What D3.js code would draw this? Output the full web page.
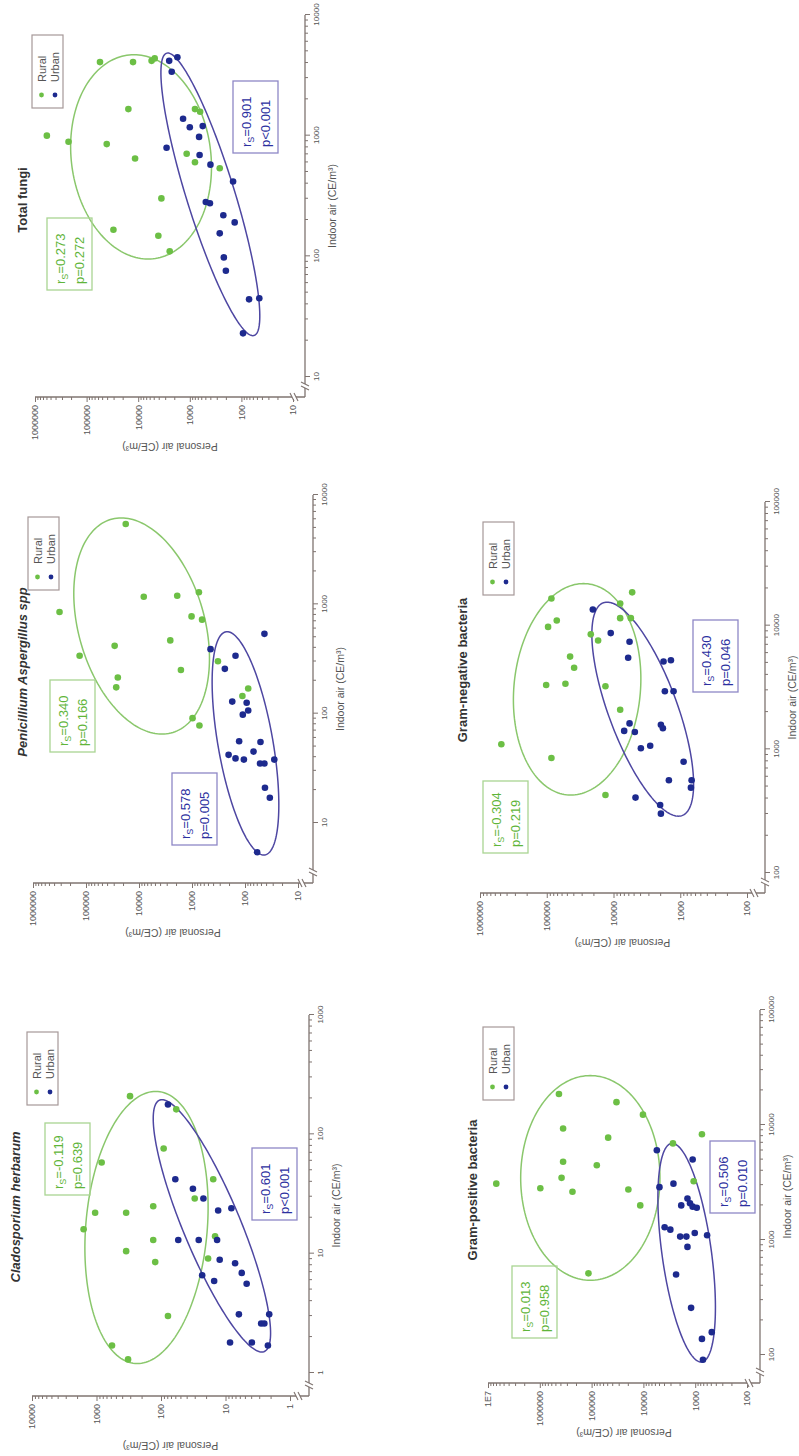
<!DOCTYPE html>
<html>
<head>
<meta charset="utf-8">
<script src="https://cdn.jsdelivr.net/npm/d3@7"></script>
<style>
  html, body { margin: 0; padding: 0; background: #fff; }
  svg { display: block; }
  text { font-family: "Liberation Sans", Arial, Helvetica, sans-serif; }
</style>
</head>
<body>
<svg id="fig" width="799" height="1456"></svg>
<script>
// ---------- data: [indoor air, personal air] in CE/m³ ----------
const cladoRural = [[209,302],[162,58],[76,91],[58,832],[42,15.5],[29,30],[25,132],[22,1050],[22,347],[16,1585],[13,132],[14,14.5],[10.5,347],[8.5,123],[9.1,18.6],[3.0,78],[1.7,575],[1.3,324]];
const cladoUrban = [[178,78],[42,60],[35,32],[29,22],[23,13],[24,8.1],[13,54],[13,26],[13,13.5],[8.9,12.3],[8.3,7.1],[6.6,23],[6.9,5.6],[5.9,15],[5.6,4.7],[3.1,6.2],[3.1,2.1],[2.6,2.8],[2.6,2.5],[1.8,8.5],[1.8,3.9],[1.7,2.2]];

const penicRural = [[5430,17800],[851,316000],[1175,8130],[1200,1900],[1290,741],[776,1020],[724,646],[468,2570],[417,28800],[339,132000],[251,1620],[214,25100],[174,26900],[91,977],[78,724],[302,324],[145,112],[170,87]];
const penicUrban = [[537,43],[389,447],[339,151],[257,240],[129,174],[126,93],[107,87],[98,110],[56,129],[55,51],[42,204],[39,151],[38,105],[45,69],[35,52],[35,43],[38,28],[21,42],[17,34],[5.4,59]];

const totalRural = [[1000,589000],[891,224000],[4070,55000],[4070,12600],[4170,5500],[4370,4790],[1660,15500],[851,40700],[646,11500],[302,3550],[166,30200],[148,4070],[110,2450],[708,1150],[603,794],[1660,794],[1580,631],[537,263]];
const totalUrban = [[4170,2510],[4470,1740],[3390,2240],[1380,1350],[1175,1000],[1200,562],[977,661],[692,646],[794,2820],[575,398],[417,145],[282,490],[275,407],[219,224],[191,135],[155,263],[98,219],[76,200],[44,71],[45,45],[23,93]];

const gposRural = [[18600,427000],[15800,33100],[12300,10200],[9330,355000],[7760,47900],[8320,741],[6920,2690],[4790,355000],[4470,79400],[3470,380000],[3090,6920000],[2820,977000],[2630,234000],[2750,19500],[3240,1070],[2000,11500],[513,115000]];
const gposUrban = [[6030,5500],[5010,1120],[3090,2630],[2880,4900],[2290,1410],[2090,1260],[2000,1860],[1950,1120],[1910,933],[1290,3890],[1230,3020],[1070,1950],[1070,1480],[1150,1020],[1100,589],[871,1410],[501,2340],[257,1200],[158,479],[138,741],[91,708]];

const gnegRural = [[18600,5250],[16600,85100],[15100,7940],[11000,70800],[9770,95500],[11500,7940],[11500,5500],[8510,21900],[7590,17000],[5620,44700],[4570,38900],[3310,102000],[3390,52500],[3240,13200],[2090,7940],[1100,479000],[851,85100],[427,13200]];
const gnegUrban = [[13500,20400],[8710,11000],[7410,5750],[5500,6030],[5130,1780],[5250,1380],[2950,1700],[2950,1260],[1620,5750],[1410,6920],[1380,4790],[1580,1950],[1480,1820],[1020,3890],[1070,2820],[794,891],[562,1480],[562,676],[490,692],[407,4680],[355,2000],[302,1950]];

// ---------- group ellipses: x/y extent (CE/m³) and log-space correlation ----------
const cladoEllipses = { rural: { x: [1.2, 229], y: [18.6, 1514], rho: -0.15 }, urban: { x: [1.5, 195], y: [2.0, 132], rho: 0.85 } };
const penicEllipses = { rural: { x: [65, 6170], y: [468, 170000], rho: 0.3 }, urban: { x: [5.1, 562], y: [23, 417], rho: 0.55 } };
const totalEllipses = { rural: { x: [95, 4680], y: [380, 204000], rho: 0.1 }, urban: { x: [22, 4840], y: [44, 3630], rho: 0.86 } };
const gposEllipses  = { rural: { x: [447, 26900], y: [4790, 2340000], rho: 0.0 }, urban: { x: [87, 6920], y: [407, 5250], rho: 0.5 } };
const gnegEllipses  = { rural: { x: [427, 21900], y: [3890, 316000], rho: -0.1 }, urban: { x: [288, 15500], y: [631, 21100], rho: 0.7 } };

// ---------- Spearman statistics ----------
const cladoStats = { rural: { r: "=-0.119", p: "=0.639" }, urban: { r: "=0.601", p: "<0.001" } };
const penicStats = { rural: { r: "=0.340", p: "=0.166" }, urban: { r: "=0.578", p: "=0.005" } };
const totalStats = { rural: { r: "=0.273", p: "=0.272" }, urban: { r: "=0.901", p: "<0.001" } };
const gposStats  = { rural: { r: "=0.013", p: "=0.958" }, urban: { r: "=0.506", p: "=0.010" } };
const gnegStats  = { rural: { r: "=-0.304", p: "=0.219" }, urban: { r: "=0.430", p: "=0.046" } };

// ---------- axis ticks ----------
const cladoXTicks = [1, 10, 100, 1000];
const cladoYTicks = [1, 10, 100, 1000, 10000];
const penicXTicks = [10, 100, 1000, 10000];
const penicYTicks = [10, 100, 1000, 10000, 100000, 1000000];
const totalXTicks = [10, 100, 1000, 10000];
const totalYTicks = [10, 100, 1000, 10000, 100000, 1000000];
const gposXTicks  = [100, 1000, 10000, 100000];
const gposYTicks  = [100, 1000, 10000, 100000, 1000000, 10000000];
const gposYLabels = ["100", "1000", "10000", "100000", "1000000", "1E7"];
const gnegXTicks  = [100, 1000, 10000, 100000];
const gnegYTicks  = [100, 1000, 10000, 100000, 1000000];

const groupNames = ["Rural", "Urban"];
const xTitle = "Indoor air (CE/m³)";
const yTitle = "Personal air (CE/m³)";

// ---------- panel definitions ----------
const panels = [
  { key: "clado", title: "Cladosporium herbarum", italic: true, xTicks: cladoXTicks, yTicks: cladoYTicks, rural: cladoRural, urban: cladoUrban, ell: cladoEllipses, stats: cladoStats },
  { key: "penic", title: "Penicillium Aspergillus spp", italic: true, xTicks: penicXTicks, yTicks: penicYTicks, rural: penicRural, urban: penicUrban, ell: penicEllipses, stats: penicStats },
  { key: "total", title: "Total fungi", italic: false, xTicks: totalXTicks, yTicks: totalYTicks, rural: totalRural, urban: totalUrban, ell: totalEllipses, stats: totalStats },
  { key: "gpos", title: "Gram-positive bacteria", italic: false, xTicks: gposXTicks, yTicks: gposYTicks, yLabels: gposYLabels, rural: gposRural, urban: gposUrban, ell: gposEllipses, stats: gposStats },
  { key: "gneg", title: "Gram-negative bacteria", italic: false, xTicks: gnegXTicks, yTicks: gnegYTicks, rural: gnegRural, urban: gnegUrban, ell: gnegEllipses, stats: gnegStats }
];

// Layout in the figure's own (landscape) frame: 1456 wide x 799 tall.
const layout = {
  clado: { x: [83, 441],   y: [290, 32],  corner: [60, 309],   title: [249, 20],  legend: [351, 27],  ruralBox: [261, 45],  urbanBox: [236, 252] },
  penic: { x: [633, 961],  y: [298, 33],  corner: [573, 313],  title: [784, 27],  legend: [866, 28],  ruralBox: [704, 50],  urbanBox: [611, 172] },
  total: { x: [1079, 1441], y: [293, 35], corner: [1059, 305], title: [1256, 27], legend: [1348, 32], ruralBox: [1166, 47], urbanBox: [1303, 233] },
  gpos:  { x: [101, 446],  y: [747, 488], corner: [73, 760],   title: [266, 477], legend: [356, 483], ruralBox: [118, 512], urbanBox: [243, 710] },
  gneg:  { x: [583, 954],  y: [747, 480], corner: [563, 765],  title: [786, 467], legend: [861, 483], ruralBox: [603, 483], urbanBox: [764, 693] }
};

const colors = {
  rural: "#6cbf45", urban: "#1d2a8e",
  ruralEll: "#8ac76c", urbanEll: "#4e47a2",
  ruralText: "#5fb53a", urbanText: "#2c30a0",
  ruralBox: "#a9d592", urbanBox: "#8e87c6",
  axis: "#7f7470", tickText: "#555", legendBox: "#a69898"
};

// The landscape figure is placed on the portrait page turned a quarter turn counter-clockwise.
const svg = d3.select("#fig");
const root = svg.append("g").attr("transform", "translate(0,1456) rotate(-90)");

function minorTicks(ticks) {
  const out = [];
  for (let i = 0; i < ticks.length - 1; i++) for (let k = 2; k < 10; k++) out.push(ticks[i] * k);
  return out;
}

function drawPanel(p) {
  const L = layout[p.key];
  const g = root.append("g");
  const x = d3.scaleLog().domain([p.xTicks[0], p.xTicks[p.xTicks.length - 1]]).range(L.x);
  const y = d3.scaleLog().domain([p.yTicks[0], p.yTicks[p.yTicks.length - 1]]).range(L.y);
  const [cu, cv] = L.corner;
  const fmt = d3.format("d");

  // ellipses
  const line = d3.line().curve(d3.curveLinearClosed);
  function ellipsePts(e) {
    const lx0 = Math.log10(e.x[0]), lx1 = Math.log10(e.x[1]);
    const ly0 = Math.log10(e.y[0]), ly1 = Math.log10(e.y[1]);
    const cx = (lx0 + lx1) / 2, ax = (lx1 - lx0) / 2;
    const cy = (ly0 + ly1) / 2, ay = (ly1 - ly0) / 2;
    const phi = Math.acos(e.rho);
    return d3.range(0, 360, 2).map(a => {
      const t = a * Math.PI / 180;
      return [x(Math.pow(10, cx + ax * Math.cos(t))), y(Math.pow(10, cy + ay * Math.cos(t - phi)))];
    });
  }
  g.append("path").attr("d", line(ellipsePts(p.ell.rural)))
    .attr("fill", "none").attr("stroke", colors.ruralEll).attr("stroke-width", 1.5);
  g.append("path").attr("d", line(ellipsePts(p.ell.urban)))
    .attr("fill", "none").attr("stroke", colors.urbanEll).attr("stroke-width", 1.5);

  // points
  g.append("g").selectAll("circle").data(p.rural).join("circle")
    .attr("cx", d => x(d[0])).attr("cy", d => y(d[1])).attr("r", 3.3).attr("fill", colors.rural);
  g.append("g").selectAll("circle").data(p.urban).join("circle")
    .attr("cx", d => x(d[0])).attr("cy", d => y(d[1])).attr("r", 3.3).attr("fill", colors.urban);

  // axes
  const xMinor = g.append("g").attr("transform", `translate(0,${cv})`)
    .call(d3.axisBottom(x).tickValues(minorTicks(p.xTicks)).tickSize(3).tickFormat(""));
  const xMajor = g.append("g").attr("transform", `translate(0,${cv})`)
    .call(d3.axisBottom(x).tickValues(p.xTicks).tickSize(5).tickPadding(3).tickFormat(fmt));
  const yMinor = g.append("g").attr("transform", `translate(${cu},0)`)
    .call(d3.axisLeft(y).tickValues(minorTicks(p.yTicks)).tickSize(3).tickFormat(""));
  const yMajor = g.append("g").attr("transform", `translate(${cu},0)`)
    .call(d3.axisLeft(y).tickValues(p.yTicks).tickSize(5).tickPadding(3)
      .tickFormat((d, i) => p.yLabels ? p.yLabels[i] : fmt(d)));
  [xMinor, xMajor, yMinor, yMajor].forEach(a => {
    a.select(".domain").remove();
    a.selectAll("line").attr("stroke", colors.axis);
    a.selectAll("text").attr("fill", colors.tickText).attr("font-family", null);
  });
  xMajor.selectAll("text").attr("font-size", 8);
  yMajor.selectAll("text").attr("font-size", 9);

  const ax = g.append("g").attr("stroke", colors.axis).attr("stroke-width", 1.3).attr("fill", "none");
  ax.append("line").attr("x1", cu).attr("y1", cv).attr("x2", L.x[1]).attr("y2", cv);
  ax.append("line").attr("x1", cu).attr("y1", cv).attr("x2", cu).attr("y2", L.y[1]);

  // axis breaks near the origin corner
  const bu = cu + 11, bv = cv - 11;
  g.append("rect").attr("x", bu - 2).attr("y", cv - 2).attr("width", 4).attr("height", 4).attr("fill", "#fff");
  g.append("rect").attr("x", cu - 2).attr("y", bv - 2).attr("width", 4).attr("height", 4).attr("fill", "#fff");
  const br = g.append("g").attr("stroke", colors.axis).attr("stroke-width", 1.1);
  [-2, 2].forEach(o => {
    br.append("line").attr("x1", bu + o - 2).attr("y1", cv + 4).attr("x2", bu + o + 2).attr("y2", cv - 4);
    br.append("line").attr("x1", cu - 4).attr("y1", bv + o + 2).attr("x2", cu + 4).attr("y2", bv + o - 2);
  });

  // axis titles
  g.append("text").attr("x", (cu + L.x[1]) / 2).attr("y", cv + 31)
    .attr("text-anchor", "middle").attr("font-size", 10.5).attr("fill", "#555").text(xTitle);
  g.append("text").attr("transform", `translate(${cu - 50},${(cv + L.y[1]) / 2}) rotate(-90)`)
    .attr("text-anchor", "middle").attr("dominant-baseline", "central")
    .attr("font-size", 10.5).attr("fill", "#555").text(yTitle);

  // panel title
  g.append("text").attr("x", L.title[0]).attr("y", L.title[1])
    .attr("text-anchor", "middle").attr("font-size", 13).attr("font-weight", "bold")
    .attr("font-style", p.italic ? "italic" : "normal").attr("fill", "#333").text(p.title);

  // legend
  const lg = g.append("g").attr("transform", `translate(${L.legend[0]},${L.legend[1]})`);
  lg.append("rect").attr("width", 73).attr("height", 31).attr("fill", "#fff")
    .attr("stroke", colors.legendBox).attr("stroke-width", 1.2);
  [colors.rural, colors.urban].forEach((c, i) => {
    lg.append("circle").attr("cx", 13).attr("cy", 9.5 + i * 13.5).attr("r", 2.4).attr("fill", c);
    lg.append("text").attr("x", 26).attr("y", 9.5 + i * 13.5).attr("dominant-baseline", "central")
      .attr("font-size", 11).attr("fill", "#555").text(groupNames[i]);
  });

  // correlation boxes
  function statBox(pos, s, textColor, boxColor) {
    const b = g.append("g").attr("transform", `translate(${pos[0]},${pos[1]})`);
    b.append("rect").attr("width", 72).attr("height", 45).attr("fill", "none")
      .attr("stroke", boxColor).attr("stroke-width", 1.3);
    const t1 = b.append("text").attr("x", 6).attr("y", 18).attr("font-size", 13).attr("fill", textColor);
    t1.append("tspan").text("r");
    t1.append("tspan").attr("font-size", 9).attr("dy", 3).text("S");
    t1.append("tspan").attr("dy", -3).text(s.r);
    b.append("text").attr("x", 6).attr("y", 37).attr("font-size", 13).attr("fill", textColor).text("p" + s.p);
  }
  statBox(L.ruralBox, p.stats.rural, colors.ruralText, colors.ruralBox);
  statBox(L.urbanBox, p.stats.urban, colors.urbanText, colors.urbanBox);
}

panels.forEach(drawPanel);
</script>
</body>
</html>
